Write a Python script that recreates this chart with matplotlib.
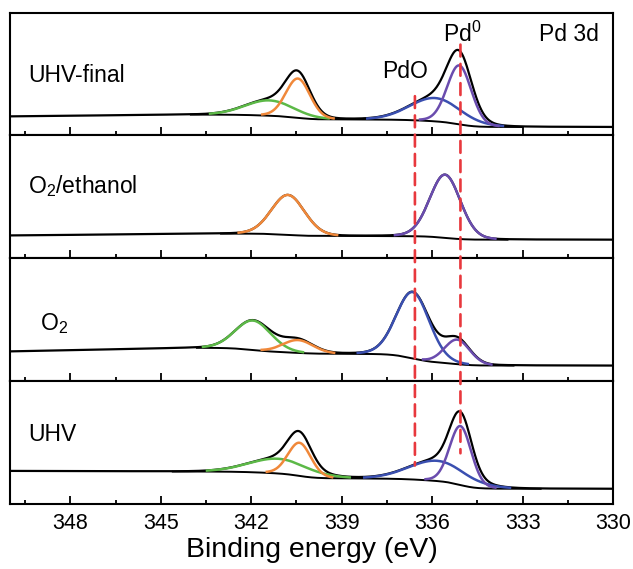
import numpy as np
import matplotlib
matplotlib.use("Agg")
import matplotlib.pyplot as plt
from matplotlib.ticker import MultipleLocator
from matplotlib.patches import ConnectionPatch

plt.rcParams['font.family'] = ['Liberation Sans', 'DejaVu Sans']
plt.rcParams['mathtext.fontset'] = 'custom'
plt.rcParams['mathtext.rm'] = 'Liberation Sans'

# panels from top to bottom
panel_labels = ["UHV-final", "O$_2$/ethanol", "O$_2$", "UHV"]
label_x = [349.4, 349.4, 349.0, 349.4]
label_y = [0.49, 0.59, 0.47, 0.56]

# background levels (panel fraction): at 350 eV, high-BE side of fit, low-BE side
bg_far = [0.155, 0.185, 0.24, 0.266]
bg_high = [0.17, 0.20, 0.27, 0.262]
bg_low = [0.068, 0.15, 0.124, 0.12]
fit_start = [344.0, 343.0, 343.8, 344.6]
fit_end = [333.0, 333.5, 333.3, 332.4]

# fitted components: (species, centre eV, height, FWHM eV)
peaks = [
    [("PdO 3d3/2", 341.4, 0.125, 1.9), ("Pd 3d3/2", 340.45, 0.32, 0.95),
     ("PdO 3d5/2", 335.9, 0.19, 2.0), ("Pd 3d5/2", 335.1, 0.48, 0.95)],
    [("Pd 3d3/2", 340.78, 0.325, 1.3), ("Pd 3d5/2", 335.57, 0.515, 1.2)],
    [("PdO 3d3/2", 341.94, 0.24, 1.4), ("Pd 3d3/2", 340.45, 0.105, 1.2),
     ("PdO 3d5/2", 336.64, 0.54, 1.3), ("Pd 3d5/2", 335.17, 0.20, 1.0)],
    [("PdO 3d3/2", 341.1, 0.12, 2.3), ("Pd 3d3/2", 340.4, 0.27, 0.9),
     ("PdO 3d5/2", 335.83, 0.165, 2.2), ("Pd 3d5/2", 335.06, 0.48, 0.85)],
]

colors = {"PdO 3d3/2": "#5cb947", "Pd 3d3/2": "#f0883a",
          "PdO 3d5/2": "#3a4fb0", "Pd 3d5/2": "#6a4cae"}

pdo_pos = 336.57
pd0_pos = 335.06


def pv(e, c, h, w, eta=0.1):
    g = np.exp(-4 * np.log(2) * ((e - c) / w) ** 2)
    l = 1 / (1 + 4 * ((e - c) / w) ** 2)
    return h * ((1 - eta) * g + eta * l)


energy = np.linspace(330, 350, 1201)

fig, axes = plt.subplots(4, 1, figsize=(6.33, 5.69), dpi=100, sharex=True)
fig.subplots_adjust(left=10 / 633, right=613 / 633, top=1 - 12.7 / 569,
                    bottom=1 - 503.6 / 569, hspace=0)

for i, ax in enumerate(axes):
    comps = [pv(energy, c, h, w) for _, c, h, w in peaks[i]]
    total = np.sum(comps, axis=0)
    # Shirley type step under the peaks
    cum = np.cumsum(total)
    bg = bg_low[i] + (bg_high[i] - bg_low[i]) * cum / cum[-1]
    hi = energy > fit_start[i]
    bg[hi] = bg_high[i] + (bg_far[i] - bg_high[i]) * (energy[hi] - fit_start[i]) / (350 - fit_start[i])

    ax.plot(energy, bg + total, color='black', lw=1.6, zorder=2)
    inside = (energy <= fit_start[i]) & (energy >= fit_end[i])
    ax.plot(energy[inside], bg[inside], color='black', lw=1.4, zorder=2)
    for (name, c, h, w), comp in zip(peaks[i], comps):
        m = inside & (comp > 0.008)
        ax.plot(energy[m], bg[m] + comp[m], color=colors[name], lw=1.8, zorder=3)

    ax.text(label_x[i], label_y[i], panel_labels[i], fontsize=16.5, va='center', ha='left')
    ax.set_ylim(0, 1)
    ax.set_yticks([])
    ax.xaxis.set_major_locator(MultipleLocator(3))
    ax.xaxis.set_minor_locator(MultipleLocator(1.5))
    ax.tick_params(axis='x', which='major', direction='in', length=6, width=1.3,
                   labelsize=15.5, pad=7)
    ax.tick_params(axis='x', which='minor', direction='in', length=3, width=1.3)
    for s in ax.spines.values():
        s.set_linewidth(1.5)

axes[0].set_xlim(350, 330)
axes[-1].set_xlabel("Binding energy (eV)", fontsize=20.5, labelpad=2)

axes[0].text(336.9, 0.52, "PdO", fontsize=16.5, ha='center', va='center')
axes[0].text(335.0, 0.82, "Pd$^0$", fontsize=16.5, ha='center', va='center')
axes[0].text(331.45, 0.82, "Pd 3d", fontsize=16.5, ha='center', va='center')

for x, ya, yb in [(pdo_pos, 0.32, 0.31), (pd0_pos, 0.74, 0.41)]:
    con = ConnectionPatch(xyA=(x, ya), coordsA=axes[0].transData,
                          xyB=(x, yb), coordsB=axes[-1].transData,
                          color='#e8383d', lw=1.9, linestyle=(0, (4.5, 2.8)), zorder=5)
    fig.add_artist(con)

fig.savefig("out.png", dpi=100)
